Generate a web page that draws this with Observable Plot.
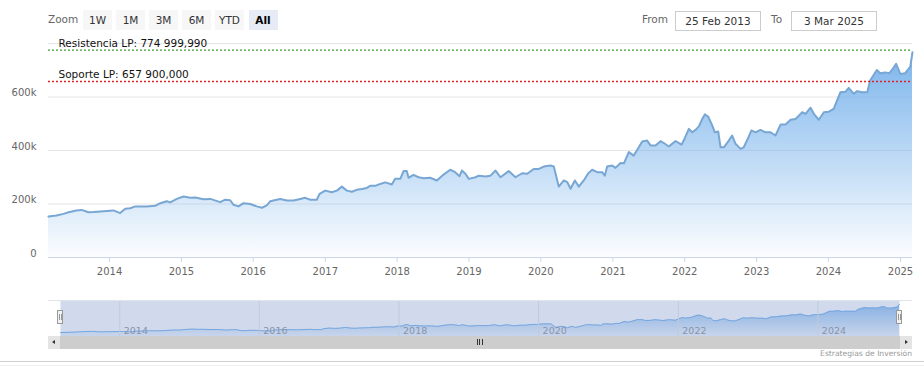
<!DOCTYPE html>
<html>
<head>
<meta charset="utf-8">
<script src="https://cdn.jsdelivr.net/npm/d3@7"></script>
<script src="https://cdn.jsdelivr.net/npm/@observablehq/plot@0.6"></script>
<style>
  body { margin: 0; background: #fff; font-family: "DejaVu Sans", Verdana, sans-serif; }
  #wrap { position: relative; width: 924px; height: 381px; overflow: hidden; background: #fff; }
  .btn { position: absolute; top: 10px; height: 20px; width: 29px; line-height: 20px; text-align: center;
         font-size: 10.5px; color: #333; background: #f7f7f7; }
  .btn.sel { background: #e6ebf5; color: #000; font-weight: bold; }
  .lbl { position: absolute; font-size: 10.5px; color: #666; top: 13px; }
  .inp { position: absolute; top: 11px; height: 18px; width: 84px; border: 1px solid #ccc; font-size: 10.5px;
         color: #333; text-align: center; line-height: 18px; background: #fff; }
</style>
</head>
<body>
<div id="wrap"></div>
<script>
// ---- data ----
const dates = [
"2013-02-25","2013-04-07","2013-05-12","2013-06-07","2013-07-17","2013-08-12","2013-09-16","2013-10-12","2013-11-16",
"2014-01-21","2014-02-24","2014-03-22","2014-04-16","2014-05-12","2014-07-09","2014-08-21","2014-09-16","2014-10-19","2014-11-05","2014-12-09",
"2015-01-12","2015-02-15","2015-03-12","2015-04-24","2015-05-28","2015-07-17","2015-08-12","2015-09-06","2015-09-23","2015-10-18","2015-11-13","2015-12-17",
"2016-01-19","2016-02-14","2016-03-10","2016-03-27","2016-04-30","2016-05-17","2016-06-20","2016-07-24","2016-08-27","2016-09-21","2016-10-17","2016-11-19","2016-12-03",
"2017-01-01","2017-02-03","2017-03-01","2017-03-26","2017-04-21","2017-05-16","2017-06-10","2017-07-06","2017-07-31","2017-08-17","2017-09-12","2017-10-07","2017-11-02","2017-12-05","2017-12-22",
"2018-01-17","2018-02-03","2018-02-19","2018-02-28","2018-03-25","2018-04-20","2018-05-15","2018-06-18","2018-07-22","2018-08-25","2018-09-28","2018-10-23","2018-11-14","2018-11-26","2018-12-14","2018-12-31",
"2019-02-03","2019-02-20","2019-03-26","2019-04-20","2019-05-16","2019-06-10","2019-07-22","2019-08-25","2019-09-28","2019-10-24","2019-11-26","2019-12-22",
"2020-01-16","2020-02-19","2020-03-07","2020-03-16","2020-04-01","2020-04-27","2020-05-14","2020-05-31","2020-06-22","2020-07-12","2020-08-06","2020-08-29","2020-09-18","2020-10-13","2020-11-08","2020-11-21","2020-12-03","2020-12-29",
"2021-01-14","2021-02-09","2021-02-26","2021-03-23","2021-04-17","2021-05-13","2021-05-30","2021-06-24","2021-07-11","2021-08-06","2021-08-31","2021-09-17","2021-10-12","2021-11-15","2021-12-16",
"2022-01-02","2022-01-22","2022-02-08","2022-02-25","2022-03-14","2022-03-31","2022-04-13","2022-04-30","2022-05-21","2022-06-03","2022-06-20","2022-07-02","2022-07-19","2022-08-13","2022-08-30","2022-09-16","2022-10-12","2022-10-28","2022-11-15","2022-12-06","2022-12-27",
"2023-01-21","2023-02-15","2023-03-13","2023-04-07","2023-05-03","2023-05-28","2023-06-23","2023-07-18","2023-08-21","2023-09-07","2023-10-02","2023-10-19","2023-11-13","2023-12-09",
"2024-01-03","2024-01-28","2024-02-14","2024-03-02","2024-03-28","2024-04-13","2024-05-09","2024-05-26","2024-06-20","2024-07-16","2024-07-31","2024-09-03","2024-09-20","2024-10-15","2024-11-06","2024-11-18","2024-12-10","2024-12-31",
"2025-01-25","2025-02-07","2025-02-20","2025-03-03"
];
const values = [
153000,157000,163000,169000,176000,178000,169000,170000,172000,
176000,166000,182000,184000,191000,191000,193000,203000,210000,206000,219000,
228000,223000,224000,218000,219000,207000,216000,214000,197000,191000,203000,200000,
191000,186000,195000,210000,216000,219000,213000,213000,219000,223000,216000,216000,238000,
250000,244000,250000,265000,250000,246000,253000,256000,260000,268000,268000,275000,281000,273000,294000,
294000,323000,323000,298000,309000,300000,296000,298000,288000,310000,328000,319000,304000,325000,313000,294000,
300000,306000,303000,306000,325000,300000,323000,300000,315000,313000,331000,331000,
340000,344000,340000,313000,265000,288000,282000,257000,288000,265000,288000,315000,328000,319000,319000,306000,340000,344000,
335000,353000,352000,394000,381000,412000,434000,437000,419000,419000,435000,428000,415000,435000,422000,
447000,481000,468000,477000,490000,518000,535000,527000,493000,468000,471000,412000,412000,437000,456000,425000,406000,412000,440000,475000,468000,
477000,468000,468000,456000,497000,497000,515000,518000,543000,537000,560000,537000,515000,543000,
545000,556000,587000,618000,620000,634000,612000,622000,618000,618000,662000,701000,689000,692000,689000,700000,724000,686000,
689000,701000,714000,767000
];
const resistance = 774999.99;
const support = 657900;
const levelLabels = ["Resistencia LP: 774 999,990", "Soporte LP: 657 900,000"];
const yTicks = [0, 200000, 400000, 600000];
const yGrid = [0, 200000, 400000, 600000, 800000];
const xYears = [2014,2015,2016,2017,2018,2019,2020,2021,2022,2023,2024,2025];
const navYears = [2014,2016,2018,2020,2022,2024];
const rangeButtons = ["1W","1M","3M","6M","YTD","All"];
const fromText = "25 Feb 2013", toText = "3 Mar 2025";
const creditText = "Estrategias de Inversión";

const data = dates.map((d, i) => ({date: new Date(d), value: values[i]}));
const levels = [
  {value: resistance, label: levelLabels[0]},
  {value: support, label: levelLabels[1]}
];
const xDomain = [new Date("2013-02-25"), new Date("2025-03-03")];
const yearDate = y => new Date(Date.UTC(y, 0, 1));
const font = '"DejaVu Sans", Verdana, sans-serif';

const wrap = document.getElementById("wrap");

// ---- main chart ----
const main = Plot.plot({
  width: 924, height: 290,
  marginLeft: 48, marginRight: 12, marginTop: 43, marginBottom: 33,
  style: {fontFamily: font, background: "transparent", overflow: "visible"},
  x: {type: "utc", domain: xDomain, label: null},
  y: {domain: [0, 800000], label: null},
  marks: [
    Plot.ruleY(yGrid, {stroke: "#e6e6e6", strokeWidth: 1}),
    Plot.areaY(data, {x: "date", y: "value", fill: "url(#areaGrad)"}),
    Plot.lineY(data, {x: "date", y: "value", stroke: "#79a7d4", strokeWidth: 2}),
    Plot.ruleY([resistance], {stroke: "#3d9a35", strokeWidth: 1.2, strokeDasharray: "2,2"}),
    Plot.ruleY([support], {stroke: "#e02424", strokeWidth: 1.3, strokeDasharray: "2,2"}),
    Plot.text(levels, {y: "value", text: "label", frameAnchor: "left", textAnchor: "start", dx: 10, dy: -7,
                       fill: "#111", fontSize: 10.5}),
    Plot.ruleY([0], {stroke: "#ccd6eb"}),
    Plot.axisX(xYears.map(yearDate), {tickSize: 5, tickPadding: 5, stroke: "#ccd6eb", fill: "#666", fontSize: 10,
                                      tickFormat: d => String(d.getUTCFullYear()), label: null}),
    Plot.axisY(yTicks, {tickSize: 0, tickPadding: 12, fill: "#666", fontSize: 10, dy: -4,
                        tickFormat: d => d === 0 ? "0" : (d / 1000) + "k", label: null})
  ]
});
main.style.position = "absolute"; main.style.left = "0px"; main.style.top = "0px";
wrap.appendChild(main);

function addGrad(svgEl, id, top, bottom) {
  const svg = d3.select(svgEl);
  const g = svg.insert("defs", ":first-child").append("linearGradient")
    .attr("id", id).attr("x1", 0).attr("y1", 0).attr("x2", 0).attr("y2", 1);
  g.append("stop").attr("offset", 0).attr("stop-color", "#7cb5ec").attr("stop-opacity", top);
  g.append("stop").attr("offset", 1).attr("stop-color", "#7cb5ec").attr("stop-opacity", bottom);
}
addGrad(main, "areaGrad", 1, 0.03);

// ---- navigator ----
const navMin = 66000, navMax = 855000;
const nav = Plot.plot({
  width: 924, height: 36,
  marginLeft: 60, marginRight: 25, marginTop: 0, marginBottom: 0,
  style: {fontFamily: font, background: "transparent", overflow: "visible"},
  x: {type: "utc", domain: xDomain, label: null, axis: null},
  y: {domain: [navMin, navMax], label: null, axis: null},
  marks: [
    Plot.areaY(data, {x: "date", y1: () => navMin, y2: "value", fill: "url(#navGrad)"}),
    Plot.lineY(data, {x: "date", y: "value", stroke: "#7cb5ec", strokeWidth: 1}),
    Plot.frame({fill: "rgb(102,133,194)", fillOpacity: 0.3, stroke: "none"}),
    Plot.ruleX(navYears.map(yearDate), {stroke: "#c2cadb", strokeWidth: 1}),
    Plot.text(navYears.map(yearDate), {x: d => d, text: d => String(d.getUTCFullYear()), frameAnchor: "bottom",
              textAnchor: "start", lineAnchor: "bottom", dx: 4, dy: -3, fill: "#8a93a8", fontSize: 9.5})
  ]
});
addGrad(nav, "navGrad", 0.8, 0.1);
nav.style.position = "absolute"; nav.style.left = "0px"; nav.style.top = "300px";
wrap.appendChild(nav);

// ---- range selector & inputs (HTML) ----
function div(cls, css, text) {
  const e = document.createElement("div");
  if (cls) e.className = cls;
  Object.assign(e.style, css);
  if (text != null) e.textContent = text;
  wrap.appendChild(e);
  return e;
}
div("lbl", {left: "48px"}, "Zoom");
const centers = [97.5, 130.5, 163.5, 196.5, 229.5, 263];
rangeButtons.forEach((b, i) => div("btn" + (b === "All" ? " sel" : ""), {left: (centers[i] - 14.5) + "px"}, b));
div("lbl", {left: "642px"}, "From");
div("inp", {left: "675px"}, fromText);
div("lbl", {left: "771px"}, "To");
div("inp", {left: "791px"}, toText);

// navigator outline & handles
div(null, {position: "absolute", left: "48px", top: "300px", width: "864px", height: "0px", borderTop: "1px solid #dfe3ec"});
function handle(cx) {
  const h = div(null, {position: "absolute", left: (cx - 3.5) + "px", top: "310px", width: "6px", height: "14px",
                       background: "#f2f2f2", border: "1px solid #999", boxSizing: "border-box"});
  const l = document.createElement("div");
  Object.assign(l.style, {position: "absolute", left: "1px", top: "3px", width: "1px", height: "6px",
                          borderLeft: "1px solid #999", borderRight: "1px solid #999"});
  h.appendChild(l);
}
handle(60); handle(899.5);

// scrollbar
div(null, {position: "absolute", left: "48px", top: "336px", width: "864px", height: "13px", background: "#cdcdcd"});
div(null, {position: "absolute", left: "48px", top: "336px", width: "12px", height: "13px", background: "#e4e4e4"});
div(null, {position: "absolute", left: "900px", top: "336px", width: "12px", height: "13px", background: "#e4e4e4"});
div(null, {position: "absolute", left: "52px", top: "340px", width: 0, height: 0,
           borderTop: "2.5px solid transparent", borderBottom: "2.5px solid transparent", borderRight: "3px solid #333"});
div(null, {position: "absolute", left: "905px", top: "340px", width: 0, height: 0,
           borderTop: "2.5px solid transparent", borderBottom: "2.5px solid transparent", borderLeft: "3px solid #333"});
div(null, {position: "absolute", left: "477px", top: "339px", width: "1px", height: "6px",
           borderLeft: "1px solid #333", borderRight: "1px solid #333"});
div(null, {position: "absolute", left: "482px", top: "339px", width: "0px", height: "6px", borderLeft: "1px solid #333"});

// credits and bottom lines
div(null, {position: "absolute", right: "12px", top: "349px", fontSize: "7.6px", color: "#999", lineHeight: "10px"}, creditText);
div(null, {position: "absolute", left: "0px", top: "361px", width: "924px", height: "0px", borderTop: "1px solid #cfcfcf"});
div(null, {position: "absolute", left: "0px", top: "365px", width: "924px", height: "0px", borderTop: "1px solid #f0f0f0"});
</script>
</body>
</html>
